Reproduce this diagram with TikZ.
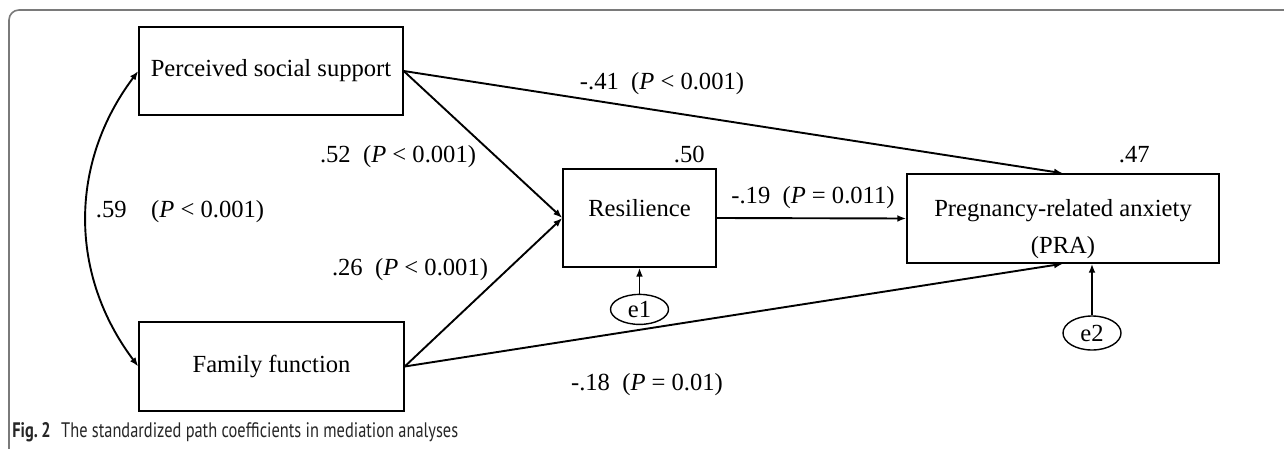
\documentclass[tikz,border=0pt]{standalone}
\usepackage{fontspec}
\setmainfont{Liberation Serif}
\newfontfamily\captionfont[FakeStretch=0.78]{PT Sans}
\usetikzlibrary{positioning, arrows.meta, shapes.geometric}
\definecolor{FrameGray}{HTML}{7A7A7A}

\begin{document}
\begin{tikzpicture}[
            x=0.5pt, y=-0.5pt,
            font=\fontsize{12.3pt}{18.5pt}\selectfont,
            >={Latex[length=4.5pt, width=3.4pt]},
            box/.style={draw, line width=0.7pt, minimum width=#1, minimum height=44pt, align=center, inner sep=2pt},
            box/.default=132pt,
            err/.style={draw, ellipse, line width=0.7pt, minimum width=29pt, minimum height=15pt, inner sep=0pt},
            arrow/.style={->, line width=0.95pt},
            lbl/.style={inner sep=1pt}
        ]
            \useasboundingbox (0,0) rectangle (1284,449);
            \draw[FrameGray, line width=0.8pt, rounded corners=5pt] (9,449) -- (9,10) -- (1284,10);

            \node[box=132pt] (pss) at (271,71) {Perceived social support};
            \node[box=132.5pt, minimum height=44.5pt] (ff) at (271.5,366.5) {Family function};
            \node[box=76.5pt, minimum height=49pt, text height=8.5pt, text depth=10.5pt] (res) at (639.5,218) {Resilience};
            \node[box=156pt, minimum height=44.5pt, text height=10pt, text depth=12.5pt] (pra) at (1063,218.5)
                {\begin{tabular}[t]{@{}c@{}}Pregnancy-related anxiety\\(PRA)\end{tabular}};

            \node[err, below=13pt of res] (e1) {e1};
            \node[err, minimum height=17pt] (e2) at (1092,333) {e2};

            \draw[arrow] (pss.east) -- (pra.north);
            \draw[arrow] (pss.east) -- (res.west);
            \draw[arrow] (ff.east) -- (res.west);
            \draw[arrow] (ff.east) -- (pra.south);
            \draw[arrow] (res.east) -- (pra.west);
            \draw[arrow] (e1) -- (res);
            \draw[arrow] (e2) -- (e2 |- pra.south);
            \draw[arrow, <->] (pss.west) to[bend right=37] (ff.west);

            \node[lbl] (c41) at (662,84) {-.41\enspace(\textit{P} < 0.001)};
            \node[lbl] (c52) at (398,157) {.52\enspace(\textit{P} < 0.001)};
            \node[lbl] (c59) at (180,212) {.59\quad(\textit{P} < 0.001)};
            \node[lbl] (c26) at (410,270) {.26\enspace(\textit{P} < 0.001)};
            \node[lbl] (c19) at (813,198) {-.19\enspace(\textit{P} = 0.011)};
            \node[lbl] (c18) at (647,385) {-.18\enspace(\textit{P} = 0.01)};
            \node[lbl, anchor=south east] (r50) at (707,165) {.50};
            \node[lbl, anchor=south east] (r47) at (1152,165) {.47};

            \node[anchor=base west, inner sep=0pt, text=black!85, font=\captionfont\fontsize{10.5pt}{12pt}\selectfont] (cap) at (12,437) {\textbf{Fig.\,2}\enspace The standardized path coefficients in mediation analyses};
        \end{tikzpicture}
\end{document}
